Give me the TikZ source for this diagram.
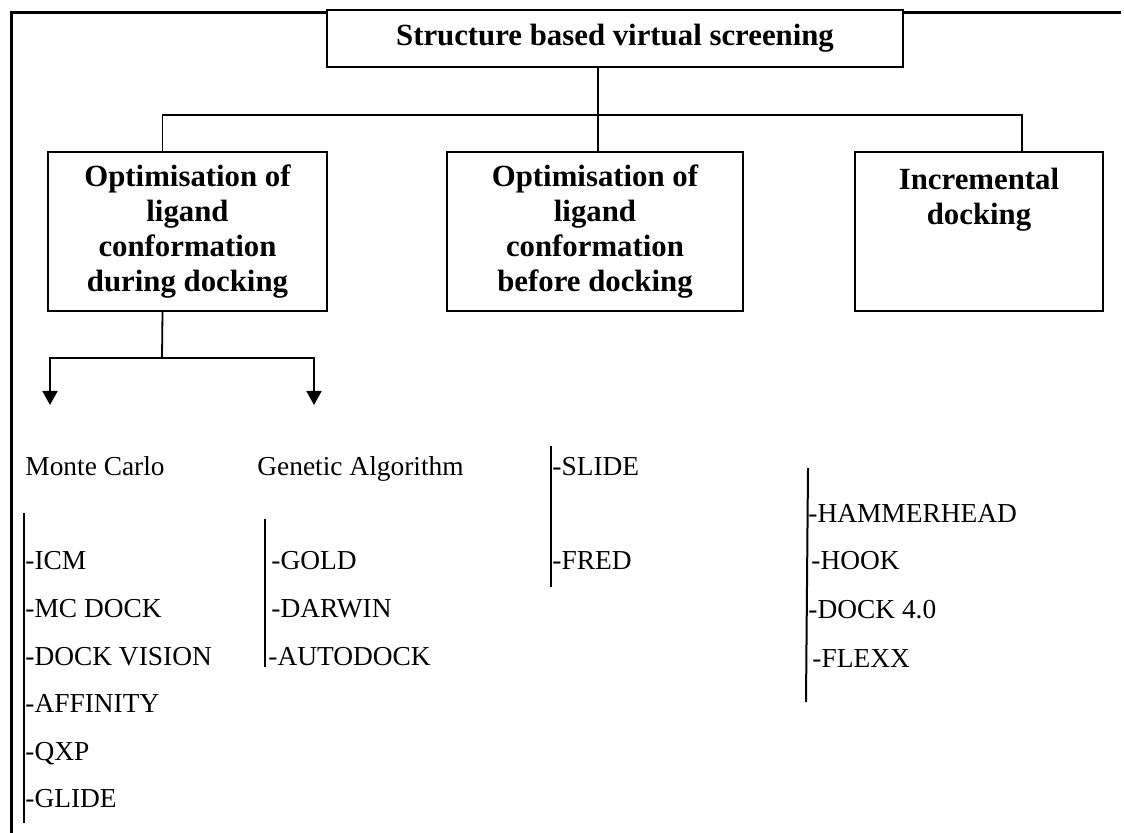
\documentclass[tikz,border=0pt]{standalone}
\usepackage{fontspec}
\setmainfont{Liberation Serif}
\usetikzlibrary{arrows.meta}

\tikzset{
  heading/.style={draw,line width=1pt,fill=white,inner sep=0pt,align=center,
    font=\fontsize{15.4}{17.5}\selectfont\bfseries},
  item/.style={anchor=base west,inner sep=0pt,font=\fontsize{13.7}{16}\selectfont},
  link/.style={line width=.9pt},
  bar/.style={line width=1pt},
}

\begin{document}
\begin{tikzpicture}[x=.5pt,y=-.5pt]
  \useasboundingbox (0,0) rectangle (1124,833);

  %% frame
  \draw[line width=1.5pt] (11,833) -- (11,13) -- (1121,13);

  %% boxes
  \node (top) at (615,38.5) [heading,minimum width=288pt,minimum height=28.5pt]
    {Structure based virtual screening};
  \node (during) at (187.5,231.5) [heading,minimum width=139.5pt,minimum height=79.5pt]
    {Optimisation of\\ligand\\conformation\\during docking};
  \node (before) at (595,231.5) [heading,minimum width=148pt,minimum height=79.5pt]
    {Optimisation of\\ligand\\conformation\\before docking};
  \node (incr) at (979,231.5) [heading,minimum width=124pt,minimum height=79.5pt]
    {Incremental\\docking\\~\\~};

  %% connectors
  \coordinate (hub) at (598,115);
  \coordinate (split) at (162,358);
  \coordinate (mcend) at (50,405);
  \coordinate (gaend) at (314,405);
  \draw[link] (top.south -| hub) -- (before.north -| hub);
  \draw[link] ([xshift=-12.5pt]during.north) |- (hub) -| ([xshift=21.5pt]incr.north);
  \draw[link] ([xshift=-12.5pt]during.south) -- (split);
  \draw[link,-{Triangle[width=7.5pt,length=7pt]}] (split) -| (mcend);
  \draw[link,-{Triangle[width=7.5pt,length=7pt]}] (split) -| (gaend);

  %% methods
  \node (mc) at (25,476) [item] {Monte Carlo};
  \node (ga) at (257,476) [item] {Genetic Algorithm};

  %% Monte Carlo list
  \draw[bar] (24,513) -- (24,823);
  \node (icm) at (25,570) [item] {-ICM};
  \node (mcdock) at (25,617.5) [item] {-MC DOCK};
  \node (dockvision) at (25,665) [item] {-DOCK VISION};
  \node (affinity) at (25,712.5) [item] {-AFFINITY};
  \node (qxp) at (25,760) [item] {-QXP};
  \node (glide) at (25,807.5) [item] {-GLIDE};

  %% Genetic Algorithm list
  \draw[bar] (265,519) -- (265,667);
  \node (gold) at (271,570) [item] {-GOLD};
  \node (darwin) at (271,617.5) [item] {-DARWIN};
  \node (autodock) at (268,665) [item] {-AUTODOCK};

  %% before docking list
  \draw[bar] (551,446) -- (551,587);
  \node (slide) at (552,476) [item] {-SLIDE};
  \node (fred) at (552,570) [item] {-FRED};

  %% incremental list
  \draw[bar] (808,468) -- (806,702);
  \node (hammerhead) at (808,523) [item] {-HAMMERHEAD};
  \node (hook) at (811,570) [item] {-HOOK};
  \node (dock) at (808,618) [item] {-DOCK 4.0};
  \node (flexx) at (812,667) [item] {-FLEXX};
\end{tikzpicture}
\end{document}
